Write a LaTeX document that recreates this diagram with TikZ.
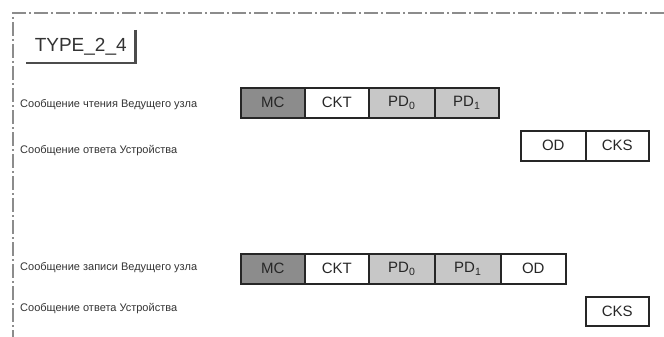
\documentclass[tikz,border=0pt]{standalone}
\usepackage{fontspec}
\setmainfont{Liberation Sans}
\begin{document}
\begin{tikzpicture}[x=1pt,y=-1pt,
  fld/.style={draw=black!85, line width=1.6pt, inner sep=0pt, anchor=north west,
    minimum width=64pt, minimum height=30pt, text=black!85,
    font=\fontsize{15}{15}\selectfont},
  dark/.style={fld, fill=black!45},
  light/.style={fld, fill=black!22},
  lbl/.style={anchor=west, inner sep=0pt, text=black!80, font=\fontsize{11}{11}\selectfont},
  frame/.style={draw=black!45, line width=1.1pt, dash pattern=on 14pt off 3pt on 2pt off 3pt}]
\useasboundingbox (0,0) rectangle (664,337);
% outer frame (top and left only)
\coordinate (ftr) at (664,13);
\coordinate (ftl) at (13,13);
\coordinate (fbl) at (13,337);
\draw[frame] (ftr) -- (ftl) -- (fbl);
% title box
\node[inner sep=0pt, anchor=north west, minimum width=109pt, minimum height=33pt,
  font=\fontsize{19}{19}\selectfont, text=black!80] (type) at (26,30) {TYPE\_2\_4};
\draw[line width=2.2pt, draw=black!70] (type.north east) -- (type.south east) -- (type.south west);
% labels
\node[lbl] (l1) at (20,105) {Сообщение чтения Ведущего узла};
\node[lbl] (l2) at (20,151) {Сообщение ответа Устройства};
\node[lbl] (l3) at (20,268) {Сообщение записи Ведущего узла};
\node[lbl] (l4) at (20,309) {Сообщение ответа Устройства};
% row 1: read request
\node[dark]  (mc1)  at (240,87) {MC};
\node[fld]   (ckt1) at (304,87) {CKT};
\node[light, minimum width=66pt] (pda1) at (368,87) {PD\textsubscript{0}};
\node[light] (pdb1) at (434,87) {PD\textsubscript{1}};
% row 1: response
\node[fld, minimum width=65pt] (od1)  at (520,130) {OD};
\node[fld, minimum width=63pt] (cks1) at (585,130) {CKS};
% row 2: write request
\node[dark]  (mc2)  at (240,253) {MC};
\node[fld]   (ckt2) at (304,253) {CKT};
\node[light, minimum width=66pt] (pda2) at (368,253) {PD\textsubscript{0}};
\node[light, minimum width=66pt] (pdb2) at (434,253) {PD\textsubscript{1}};
\node[fld, minimum width=65pt] (od2)  at (500,253) {OD};
% row 2: response
\node[fld, minimum width=63pt, minimum height=29pt] (cks2) at (585,296) {CKS};
\end{tikzpicture}
\end{document}
